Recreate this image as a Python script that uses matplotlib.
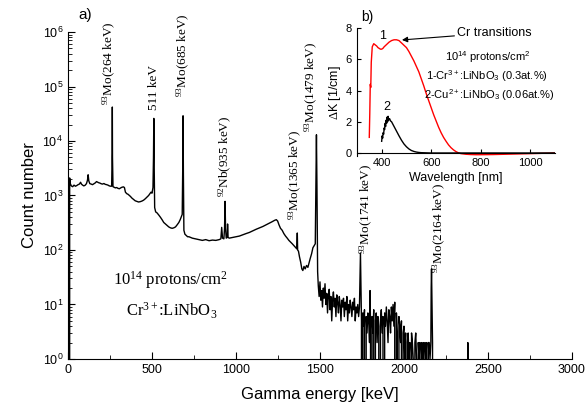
import numpy as np
import matplotlib
matplotlib.use("Agg")
import matplotlib.pyplot as plt
from matplotlib.ticker import MultipleLocator, FixedLocator, NullFormatter

plt.rcParams['font.family'] = ['Liberation Sans', 'DejaVu Sans']
plt.rcParams['mathtext.fontset'] = 'custom'
plt.rcParams['mathtext.rm'] = 'Liberation Serif'
plt.rcParams['mathtext.it'] = 'Liberation Serif:italic'
plt.rcParams['mathtext.sf'] = 'Liberation Sans'

# gamma spectrum, 0 - 1486 keV
e_low = [0, 8, 10, 14, 20, 28, 36, 44, 52, 60, 68, 75, 80, 86, 94, 102, 110, 116, 120,
         124, 130, 138, 146, 154, 162, 170, 176, 182, 190, 198, 206, 214, 222, 230, 238,
         246, 254, 260, 263, 264, 265, 268, 274, 282, 290, 298, 306, 314, 322, 330, 336,
         342, 350, 358, 366, 372, 380, 390, 400, 410, 420, 430, 440, 450, 460, 470, 480,
         488, 494, 500, 506, 509, 511, 513, 516, 522, 530, 540, 550, 560, 570, 580, 590,
         600, 610, 620, 630, 640, 650, 660, 668, 674, 680, 683, 685, 687, 690, 696, 704,
         712, 720, 740, 760, 780, 800, 820, 840, 860, 880, 900, 910, 915, 920, 928, 932,
         935, 938, 942, 948, 950, 953, 960, 980, 1000, 1020, 1040, 1060, 1080, 1100, 1120,
         1140, 1160, 1180, 1200, 1215, 1230, 1240, 1248, 1256, 1265, 1275, 1285, 1295,
         1305, 1315, 1325, 1335, 1345, 1355, 1362, 1365, 1367, 1372, 1378, 1385, 1392,
         1398, 1405, 1412, 1420, 1428, 1435, 1442, 1450, 1458, 1465, 1472, 1476, 1479,
         1482, 1486]
c_low = [0, 0, 2100, 1650, 1500, 1450, 1550, 1480, 1520, 1580, 1620, 1750, 1620, 1560,
         1500, 1540, 1650, 1900, 2400, 1850, 1650, 1620, 1580, 1640, 1700, 1800, 1760,
         1720, 1690, 1640, 1620, 1660, 1600, 1580, 1550, 1500, 1480, 1480, 6000, 42000,
         5000, 1450, 1420, 1380, 1400, 1350, 1330, 1380, 1420, 1440, 1400, 1150, 1080,
         1050, 1000, 960, 900, 850, 800, 780, 760, 770, 790, 820, 870, 930, 1000, 1080,
         1150, 1100, 1400, 5000, 26000, 4000, 600, 500, 480, 440, 400, 360, 320, 300, 280,
         265, 255, 250, 255, 265, 290, 320, 360, 400, 450, 3000, 29000, 2500, 230, 195,
         185, 175, 175, 165, 160, 155, 150, 155, 148, 152, 150, 155, 160, 260, 165, 160,
         250, 780, 250, 165, 170, 300, 170, 165, 170, 175, 180, 190, 200, 210, 225, 240,
         255, 270, 290, 310, 330, 350, 360, 340, 290, 250, 230, 200, 180, 165, 150, 140,
         130, 120, 110, 105, 205, 100, 95, 75, 60, 45, 42, 50, 45, 52, 48, 58, 70, 85, 110,
         120, 130, 2000, 13000, 1500, 40]

# gamma spectrum, 1490 - 2400 keV
e_high = [1490, 1495, 1500, 1505, 1510, 1515, 1520, 1525, 1530, 1535, 1540, 1545, 1550,
          1555, 1560, 1565, 1570, 1575, 1580, 1585, 1590, 1595, 1600, 1605, 1610, 1615,
          1620, 1625, 1630, 1635, 1640, 1645, 1650, 1655, 1660, 1665, 1670, 1675, 1680,
          1685, 1690, 1695, 1700, 1705, 1710, 1715, 1720, 1725, 1730, 1735, 1738, 1741,
          1744, 1747, 1750, 1755, 1760, 1765, 1770, 1775, 1780, 1785, 1790, 1795, 1798,
          1801, 1805, 1810, 1815, 1820, 1825, 1830, 1835, 1840, 1845, 1850, 1855, 1860,
          1865, 1870, 1875, 1880, 1885, 1890, 1895, 1900, 1905, 1910, 1915, 1920, 1925,
          1930, 1935, 1940, 1945, 1950, 1955, 1960, 1965, 1970, 1975, 1980, 1985, 1990,
          1995, 2000, 2005, 2010, 2015, 2020, 2025, 2030, 2035, 2040, 2045, 2050, 2055,
          2060, 2065, 2070, 2075, 2080, 2085, 2090, 2095, 2100, 2105, 2110, 2115, 2120,
          2125, 2130, 2135, 2140, 2145, 2150, 2155, 2160, 2162, 2164, 2166, 2170, 2175,
          2378, 2380, 2382]
c_high = [22, 14, 26, 12, 18, 9, 20, 13, 24, 10, 16, 7, 15, 19, 8, 14, 5, 12, 17, 9, 13,
          6, 15, 11, 7, 14, 10, 5, 12, 9, 13, 6, 11, 8, 14, 5, 10, 7, 12, 9, 6, 11, 8, 13,
          5, 9, 7, 10, 6, 9, 30, 88, 20, 5, 0, 7, 4, 8, 0, 6, 3, 7, 5, 2, 18, 4, 0, 6, 3, 8,
          0, 5, 7, 2, 6, 4, 0, 5, 8, 3, 6, 0, 7, 4, 9, 5, 2, 8, 6, 3, 9, 5, 10, 4, 11, 0, 7,
          3, 0, 6, 4, 2, 5, 0, 3, 4, 1, 3, 0, 2, 3, 1, 2, 0, 3, 2, 1, 0, 2, 3, 1, 0, 2, 1,
          2, 0, 2, 1, 2, 0, 2, 1, 2, 0, 2, 2, 1, 2, 20, 45, 15, 2, 0, 0, 2, 0]

y_major = [1, 10, 100, 1000, 1e4, 1e5, 1e6]

peak_keV = [250, 511, 685, 935, 1355, 1450, 1775, 2210]
peak_label_y = [45000, 37000, 64000, 950, 360, 14500, 85, 38]
peak_labels = ['$^{93}$Mo(264 keV)', '511 keV', '$^{93}$Mo(685 keV)',
               '$^{92}$Nb(935 keV)', '$^{93}$Mo(1365 keV)', '$^{93}$Mo(1479 keV)',
               '$^{93}$Mo(1741 keV)', '$^{93}$Mo(2164 keV)']

# inset: radiation induced absorption
wl_cr = [350, 352, 354, 356, 358, 360, 362, 365, 368, 372, 376, 380, 385, 390, 395, 400,
         405, 410, 420, 430, 440, 450, 460, 470, 480, 490, 500, 510, 520, 530, 540, 550,
         560, 570, 580, 590, 600, 610, 620, 630, 640, 650, 660, 670, 680, 690, 700, 710,
         720, 740, 760, 780, 800, 850, 900, 950, 1000, 1050, 1100]
dk_cr = [1.0, 2.5, 4.4, 4.2, 5.8, 6.3, 6.8, 6.9, 7.0, 6.95, 6.9, 6.85, 6.75, 6.7, 6.65,
         6.65, 6.7, 6.8, 6.95, 7.1, 7.2, 7.25, 7.25, 7.2, 7.05, 6.9, 6.75, 6.5, 6.2, 5.9,
         5.55, 5.2, 4.75, 4.3, 3.8, 3.35, 2.9, 2.45, 2.05, 1.65, 1.3, 1.0, 0.75, 0.52,
         0.34, 0.2, 0.09, 0.01, -0.04, -0.08, -0.1, -0.11, -0.11, -0.1, -0.08, -0.06,
         -0.04, -0.02, 0.0]
wl_cu = [400, 402, 404, 406, 408, 410, 412, 414, 416, 418, 420, 422, 424, 426, 428, 432,
         436, 440, 445, 450, 460, 470, 480, 490, 500, 510, 520, 530, 540, 550, 560, 580,
         600, 700, 800, 900, 1000, 1100]
dk_cu = [0.75, 1.1, 0.95, 1.3, 1.2, 1.6, 1.5, 1.9, 1.7, 2.1, 1.9, 2.3, 2.0, 2.35, 2.1,
         2.2, 2.05, 2.0, 1.85, 1.7, 1.4, 1.1, 0.82, 0.58, 0.4, 0.26, 0.16, 0.1, 0.06,
         0.035, 0.02, 0.01, 0.0, 0.0, 0.0, 0.0, 0.0, 0.0]

fig = plt.figure(figsize=(5.87, 4.13), dpi=100)
ax = fig.add_axes([0.1158, 0.1308, 0.8586, 0.7917])
ax.plot(e_low + e_high, c_low + c_high, color='black', lw=1.0)
ax.set_yscale('log')
ax.set_xlim(0, 3000)
ax.set_ylim(1, 1e6)
ax.spines['top'].set_visible(False)
ax.spines['right'].set_visible(False)
ax.xaxis.set_major_locator(MultipleLocator(500))
ax.xaxis.set_minor_locator(MultipleLocator(250))
ax.yaxis.set_major_locator(FixedLocator(y_major))
minor = [m * d for d in y_major[:-1] for m in range(2, 10)]
ax.yaxis.set_minor_locator(FixedLocator(minor))
ax.yaxis.set_minor_formatter(NullFormatter())
ax.tick_params(which='both', direction='in', labelsize=9)
ax.tick_params(which='major', length=5)
ax.tick_params(which='minor', length=3)
ax.set_xlabel('Gamma energy [keV]', fontsize=12, labelpad=8)
ax.set_ylabel('Count number', fontsize=12, labelpad=4)

for x, y, s in zip(peak_keV, peak_label_y, peak_labels):
    ax.text(x, y, s, rotation=90, ha='center', va='bottom', fontsize=9.5,
            family='Liberation Serif')

ax.text(0.204, 0.242, '10$^{14}$ protons/cm$^2$', transform=ax.transAxes,
        ha='center', va='center', fontsize=12, family='Liberation Serif')
ax.text(0.206, 0.147, 'Cr$^{3+}$:LiNbO$_3$', transform=ax.transAxes,
        ha='center', va='center', fontsize=12, family='Liberation Serif')
fig.text(0.145, 0.964, 'a)', fontsize=11, ha='center', va='center')

# inset
ins = fig.add_axes([0.608, 0.622, 0.3375, 0.310])
ins.plot(wl_cr, dk_cr, color='red', lw=1.0)
ins.plot(wl_cu, dk_cu, color='black', lw=1.0)
ins.set_xlim(300, 1100)
ins.set_ylim(-0.2, 8)
ins.spines['top'].set_visible(False)
ins.spines['right'].set_visible(False)
ins.spines['bottom'].set_position(('data', 0))
ins.xaxis.set_major_locator(MultipleLocator(200))
ins.yaxis.set_major_locator(MultipleLocator(2))
ins.tick_params(direction='in', labelsize=8, length=3)
ins.set_xlabel('Wavelength [nm]', fontsize=9, labelpad=3)
ins.set_ylabel(r'$\Delta$K [1/cm]', fontsize=9, labelpad=2)
ins.text(405, 7.5, '1', fontsize=9, ha='center', va='center')
ins.text(420, 2.95, '2', fontsize=9, ha='center', va='center')
ins.annotate('Cr transitions', xy=(482, 7.24), xytext=(705, 7.7), fontsize=9,
             ha='left', va='center',
             arrowprops=dict(arrowstyle='-|>', color='black', lw=0.8,
                             mutation_scale=8, shrinkA=0, shrinkB=0))
ins.text(827, 6.1, r'10$^{\mathsf{14}}$ protons/cm$^{\mathsf{2}}$', fontsize=8,
         ha='center', va='center')
ins.text(827, 4.9, r'1-Cr$^{\mathsf{3+}}$:LiNbO$_{\mathsf{3}}$ (0.3at.%)', fontsize=8,
         ha='center', va='center')
ins.text(835, 3.7, r'2-Cu$^{\mathsf{2+}}$:LiNbO$_{\mathsf{3}}$ (0.06at.%)', fontsize=8,
         ha='center', va='center')
fig.text(0.625, 0.959, 'b)', fontsize=10, ha='center', va='center')

fig.savefig('out.png', dpi=100)
